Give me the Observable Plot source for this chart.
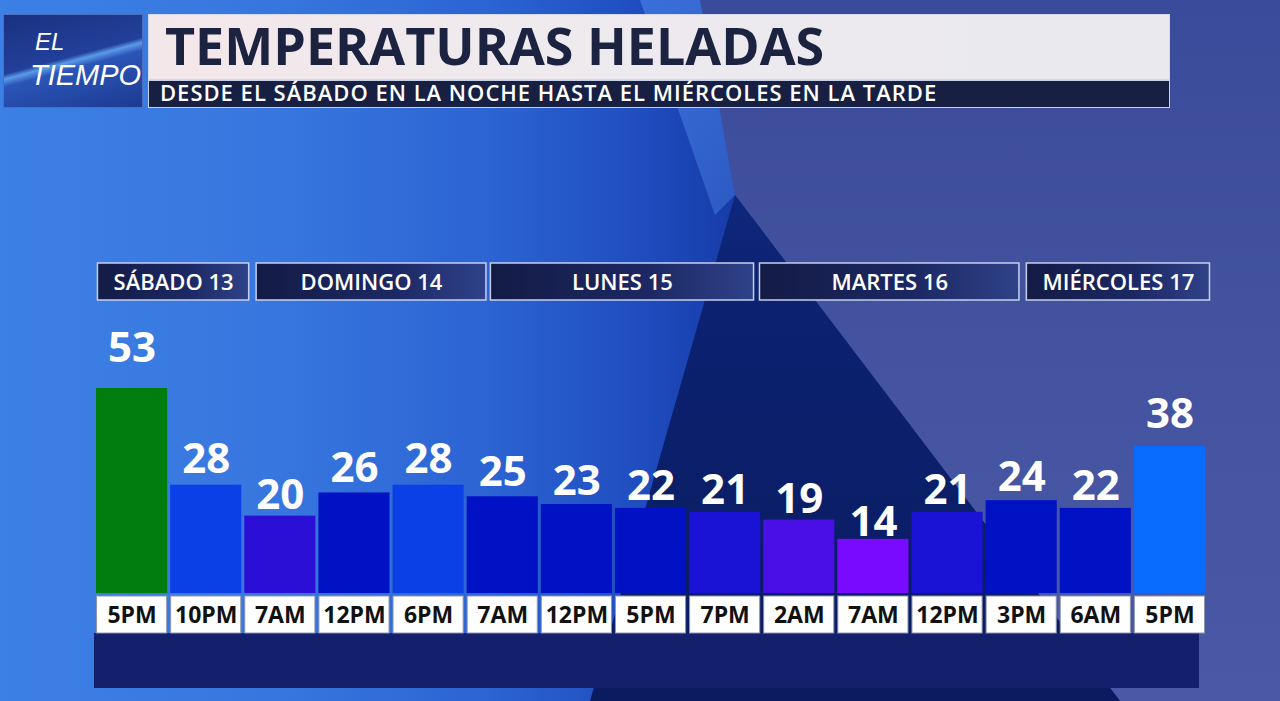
<!DOCTYPE html>
<html>
<head>
<meta charset="utf-8">
<script src="https://cdn.jsdelivr.net/npm/d3@7"></script>
<script src="https://cdn.jsdelivr.net/npm/@observablehq/plot@0.6"></script>
<style>
  html, body { margin: 0; padding: 0; }
  body { width: 1280px; height: 701px; position: relative; overflow: hidden; font-family: "Open Sans", sans-serif;
    background: linear-gradient(90deg, #3d80e5 0%, #3776de 22%, #2c64d3 38%, #1f4dc0 50%, #163aa6 58%, #123092 64%); }
  .layer { position: absolute; left: 0; top: 0; width: 1280px; height: 701px; }
  #slate { background: linear-gradient(180deg, #3a4b9b 0%, #43539f 50%, #4a59a6 100%);
    clip-path: polygon(700px 0, 1280px 0, 1280px 701px, 1120px 701px, 735px 195px); }
  #dark { background: linear-gradient(180deg, #12308f 0%, #0c2170 45%, #0a1b60 100%);
    clip-path: polygon(735px 195px, 1120px 701px, 590px 701px); }
  #streak { background: linear-gradient(180deg, rgba(80,140,240,0.55), rgba(80,140,240,0.0));
    clip-path: polygon(640px 0, 700px 0, 735px 195px, 715px 215px); }
  #logo { position: absolute; left: 3px; top: 14px; width: 140px; height: 94px; overflow: hidden;
    background: linear-gradient(165deg, #1a3180 0%, #22409a 46%, #5b9ae8 50%, #2b55b8 56%, #1c3a90 100%);
    border: 1px solid #4a6fc0; box-sizing: border-box; }
  .logotxt { position: absolute; color: #fff; font-family: "Liberation Sans", sans-serif; font-style: italic;
    font-weight: 400; line-height: 1; white-space: nowrap; }
  #titlebox { position: absolute; left: 148px; top: 14px; width: 1022px; height: 66px; box-sizing: border-box;
    background: linear-gradient(90deg, #f4e7ea 0%, #eeeaee 40%, #e9e9ee 100%); border: 1.5px solid #d3d9ea; }
  #title { position: absolute; left: 165px; top: 19px; font-size: 52px; line-height: 1; font-weight: 700; color: #1b2340; white-space: nowrap; }
  #subbox { position: absolute; left: 148px; top: 80px; width: 1022px; height: 28px; box-sizing: border-box;
    background: #172042; border: 1.5px solid #c9d1e6; }
  #subtitle { position: absolute; left: 160px; top: 81px; font-size: 22px; line-height: 1; font-weight: 600; color: #fff; white-space: nowrap; letter-spacing: 1px; }
  .plot { position: absolute; left: 0; }
  #hdr { top: 250px; }
  #main { top: 300px; }
  #vals { top: 300px; }
  #labels { top: 596px; }
  #band { position: absolute; left: 94px; top: 633px; width: 1105px; height: 55px; background: #14206c; }
  g[aria-label="value-labels"] text { filter: drop-shadow(2px 2px 1.5px rgba(0,0,30,0.75)); letter-spacing: 1px; }
  g[aria-label="day-labels"] text { letter-spacing: 0.6px; }
</style>
</head>
<body>
<div class="layer" id="slate"></div>
<div class="layer" id="dark"></div>
<div class="layer" id="streak"></div>
<div id="logo">
  <div class="logotxt" style="left:31px; top:15px; font-size:24px;">EL</div>
  <div class="logotxt" style="left:26px; top:46px; font-size:29px;">TIEMPO</div>
</div>
<div id="titlebox"></div>
<div id="title">TEMPERATURAS HELADAS</div>
<div id="subbox"></div>
<div id="subtitle">DESDE EL SÁBADO EN LA NOCHE HASTA EL MIÉRCOLES EN LA TARDE</div>
<div id="band"></div>
<div class="plot" id="hdr"></div>
<div class="plot" id="main"></div>
<div class="plot" id="vals"></div>
<div class="plot" id="labels"></div>
<script>
// ---- data ----
const hours = ["5PM","10PM","7AM","12PM","6PM","7AM","12PM","5PM","7PM","2AM","7AM","12PM","3PM","6AM","5PM"];
const temps = [53, 28, 20, 26, 28, 25, 23, 22, 21, 19, 14, 21, 24, 22, 38];
const days = ["SÁBADO 13", "DOMINGO 14", "LUNES 15", "MARTES 16", "MIÉRCOLES 17"];
// day header spans, in hour-slot units
const dayStart = [0.04, 2.18, 5.34, 8.97, 12.57];
const dayEnd   = [2.08, 5.28, 8.89, 12.47, 15.04];

const data = hours.map((h, i) => ({slot: i, hour: h, temp: temps[i]}));
const dayData = days.map((d, i) => ({day: d, start: dayStart[i], end: dayEnd[i]}));

const W = 1280, ML = 94.5, MR = 73.5;
const xScale = {domain: [0, hours.length], axis: null};
const baseStyle = {background: "transparent", overflow: "visible", fontFamily: "Open Sans, sans-serif"};

function addGradient(svg, id, stops) {
  const ns = "http://www.w3.org/2000/svg";
  const defs = document.createElementNS(ns, "defs");
  const g = document.createElementNS(ns, "linearGradient");
  g.setAttribute("id", id);
  g.setAttribute("x1", "0"); g.setAttribute("x2", "1"); g.setAttribute("y1", "0"); g.setAttribute("y2", "0");
  for (const [off, col] of stops) {
    const s = document.createElementNS(ns, "stop");
    s.setAttribute("offset", off); s.setAttribute("stop-color", col);
    g.appendChild(s);
  }
  defs.appendChild(g);
  svg.insertBefore(defs, svg.firstChild);
}

// Day headers
const hdr = Plot.plot({
  width: W, height: 50, marginLeft: ML, marginRight: MR, marginTop: 13, marginBottom: 0,
  x: xScale, style: baseStyle,
  marks: [
    Plot.rect(dayData, {x1: "start", x2: "end", fill: "url(#hdrGrad)", stroke: "#c6d0ee", strokeWidth: 1.5}),
    Plot.text(dayData, {x: d => (d.start + d.end) / 2, text: "day", frameAnchor: "middle", fill: "white",
      fontSize: 22, fontWeight: 600, dy: 1, ariaLabel: "day-labels"})
  ]
});
addGradient(hdr, "hdrGrad", [["0", "#131b45"], ["0.6", "#1c2863"], ["1", "#2f4289"]]);
document.getElementById("hdr").appendChild(hdr);

// Bars
const main = Plot.plot({
  width: W, height: 296, marginLeft: ML, marginRight: MR, marginTop: 88, marginBottom: 3,
  x: xScale,
  y: {domain: [0, 53], axis: null},
  color: {type: "threshold", domain: [15, 20, 21, 22, 27, 30, 45],
    range: ["#7a0aff", "#4a0ee6", "#2b0fd6", "#1a12d4", "#0112c4", "#0a40e6", "#0a6cff", "#017d0f"]},
  style: baseStyle,
  marks: [
    Plot.rectY(data, {x1: "slot", x2: d => d.slot + 1, y: "temp", fill: "temp", insetLeft: 1.5, insetRight: 1.5})
  ]
});
document.getElementById("main").appendChild(main);

// Value labels: the graphic places them on a slightly steeper scale than the bars
const vals = Plot.plot({
  width: W, height: 296, marginLeft: ML, marginRight: MR,
  x: xScale,
  y: {domain: [0, 53], range: [297.5, 61], axis: null},
  style: baseStyle,
  marks: [
    Plot.text(data, {x: d => d.slot + 0.5, y: "temp", text: d => String(d.temp), lineAnchor: "bottom",
      fill: "white", fontSize: 42, fontWeight: 700, ariaLabel: "value-labels"})
  ]
});
document.getElementById("vals").appendChild(vals);

// Hour labels
const labels = Plot.plot({
  width: W, height: 37, marginLeft: ML, marginRight: MR, marginTop: 0, marginBottom: 0,
  x: xScale, style: baseStyle,
  marks: [
    Plot.rect(data, {x1: "slot", x2: d => d.slot + 1, fill: "white", stroke: "#8e97b0", strokeWidth: 1, insetLeft: 2, insetRight: 2}),
    Plot.text(data, {x: d => d.slot + 0.5, text: "hour", frameAnchor: "middle", fill: "#111", fontSize: 23, fontWeight: 700, dy: 1})
  ]
});
document.getElementById("labels").appendChild(labels);
</script>
</body>
</html>
